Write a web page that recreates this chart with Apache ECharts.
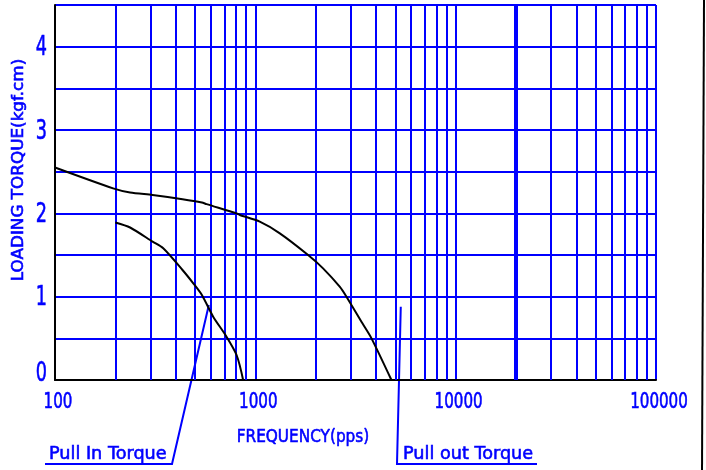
<!DOCTYPE html>
<html>
<head>
<meta charset="utf-8">
<script src="https://cdn.jsdelivr.net/npm/echarts@6/dist/echarts.min.js"></script>
<style>
html,body{margin:0;padding:0;background:#fff;}
#c{width:706px;height:470px;}
</style>
</head>
<body>
<div id="c"></div>
<script>
// ---- data ----
const xTicks = [100, 1000, 10000, 100000];
const xTickLabels = ['100', '1000', '10000', '100000'];
const yTicks = [0, 1, 2, 3, 4];
const yTickLabels = ['0', '1', '2', '3', '4'];
const minorFreqs = [200,300,400,500,600,700,800,900,
                    2000,3000,4000,5000,6000,7000,8000,9000,
                    20000,30000,40000,50000,60000,70000,80000,90000];
const pullOutFreq   = [100, 195, 237, 307, 433, 541, 571, 806, 837, 1052, 1325, 1834, 2178, 2637, 2850, 3424, 3800, 4779];
const pullOutTorque = [2.55,2.30,2.25,2.22,2.17,2.13,2.11,2.00,1.98,1.90, 1.76, 1.50, 1.34, 1.12, 1.00, 0.68, 0.50, 0];
const pullInFreq   = [200, 237, 307, 347, 433, 490, 541, 616, 718, 806, 869];
const pullInTorque = [1.89,1.83,1.66,1.58,1.32,1.16,1.02,0.76,0.52,0.30,0];
const pullInPointer  = [586, 0.90];
const pullOutPointer = [5321, 0.88];
const xTitle = 'FREQUENCY(pps)';
const yTitle = 'LOADING TORQUE(kgf.cm)';
const pullInLabel = 'Pull In Torque';
const pullOutLabel = 'Pull out Torque';

const BLUE = '#0000ff';
const FONT = '"DejaVu Sans",sans-serif';

const chart = echarts.init(document.getElementById('c'), null, {renderer: 'canvas'});
const zip = (a, b) => a.map((v, i) => [v, b[i]]);

chart.setOption({
  animation: false,
  backgroundColor: '#fff',
  grid: {left: 55, right: 50, top: 5, bottom: 90},
  xAxis: {
    type: 'log', logBase: 10, min: 100, max: 100000,
    axisLine: {show: true, onZero: false, lineStyle: {color: '#000', width: 2}},
    axisTick: {show: false},
    axisLabel: {show: false},
    splitLine: {show: true, lineStyle: {color: BLUE, width: 2}}
  },
  yAxis: {
    type: 'value', min: 0, max: 4.5, interval: 0.5,
    axisLine: {show: true, onZero: false, lineStyle: {color: '#000', width: 2}},
    axisTick: {show: false},
    axisLabel: {show: false},
    splitLine: {show: true, lineStyle: {color: BLUE, width: 2}}
  },
  series: [
    {
      type: 'line', data: [], silent: true,
      markLine: {
        silent: true, symbol: ['none', 'none'], animation: false,
        label: {show: false},
        lineStyle: {color: BLUE, width: 2, type: 'solid'},
        data: minorFreqs.map(f => f === 20000
          ? {xAxis: f, lineStyle: {color: BLUE, width: 4, type: 'solid'}}
          : {xAxis: f})
      },
      z: 1
    },
    {
      name: 'Pull out Torque', type: 'line', data: zip(pullOutFreq, pullOutTorque),
      smooth: 0.25, showSymbol: false, lineStyle: {color: '#000', width: 2}, z: 5
    },
    {
      name: 'Pull In Torque', type: 'line', data: zip(pullInFreq, pullInTorque),
      smooth: 0.25, showSymbol: false, lineStyle: {color: '#000', width: 2}, z: 5
    }
  ]
});

const px = p => chart.convertToPixel({gridIndex: 0}, p);
const p1 = px(pullInPointer);
const p2 = px(pullOutPointer);

const T = (extra) => Object.assign({fill: BLUE, fontFamily: FONT, stroke: BLUE, lineWidth: 0.6}, extra);
const graphics = [];
// x tick labels (narrow, tall lettering like the original)
xTicks.forEach((v, i) => {
  const p = px([v, 0]);
  graphics.push({type: 'text', x: p[0] + 3, y: p[1] + 23, scaleX: 0.72,
    style: T({text: xTickLabels[i], fontSize: 21, align: 'center', verticalAlign: 'middle'})});
});
// y tick labels
yTicks.forEach((v, i) => {
  const p = px([100, v]);
  graphics.push({type: 'text', x: p[0] - 8, y: p[1] + (v === 0 ? -6 : 2), scaleX: 0.68,
    style: T({text: yTickLabels[i], fontSize: 26, align: 'right', verticalAlign: 'middle'})});
});
graphics.push(
  {type: 'text', x: 303, y: 437, scaleX: 0.85,
   style: T({text: xTitle, fontSize: 18, align: 'center', verticalAlign: 'middle'})},
  {type: 'text', x: 19, y: 170, rotation: Math.PI / 2, scaleX: 1.12,
   style: T({text: yTitle, fontSize: 15, align: 'center', verticalAlign: 'middle'})},
  {type: 'text', x: 49, y: 454, scaleX: 0.98,
   style: T({text: pullInLabel, fontSize: 18, align: 'left', verticalAlign: 'middle'})},
  {type: 'polyline', shape: {points: [[45, 464], [172, 464], [p1[0], p1[1]]]},
   style: {stroke: BLUE, lineWidth: 2, fill: null}},
  {type: 'text', x: 403, y: 454, scaleX: 0.98,
   style: T({text: pullOutLabel, fontSize: 18, align: 'left', verticalAlign: 'middle'})},
  {type: 'polyline', shape: {points: [[537, 464], [397, 464], [p2[0], p2[1]]]},
   style: {stroke: BLUE, lineWidth: 2, fill: null}},
  {type: 'line', shape: {x1: 704, y1: 0, x2: 702, y2: 470}, style: {stroke: '#000', lineWidth: 2}}
);
chart.setOption({graphic: graphics});
</script>
</body>
</html>
